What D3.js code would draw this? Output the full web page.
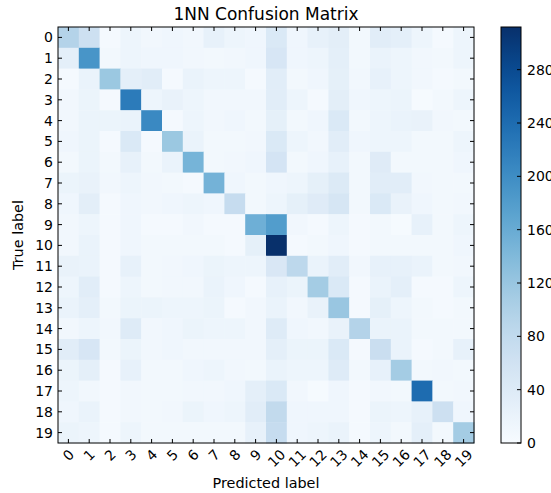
<!DOCTYPE html>
<html lang="en">
<head>
<meta charset="UTF-8">
<title>1NN Confusion Matrix</title>
<style>
  body { margin: 0; background: #fff; }
  text { font-family: "DejaVu Sans", sans-serif; fill: #000; }
</style>
</head>
<body>
<svg id="chart" width="551" height="493"></svg>
<script src="https://d3js.org/d3.v7.min.js"></script>
<script>
// class labels (same for true and predicted)
const labels = d3.range(20).map(String);

// confusion matrix rows: true label, columns: predicted label
const matrix = [
  [ 95, 65,  5, 15, 10, 12, 10, 25, 15, 12, 45, 12, 25, 32,  8, 35, 30, 15,  5, 15],
  [ 30,190,  8, 15, 12, 12, 10,  8, 10, 12, 50, 12, 15, 30,  8, 20, 15, 10,  8, 15],
  [  5, 20,118, 30, 35,  5, 20, 15, 15,  5, 35,  8, 12, 28, 10, 25, 15, 10,  5,  8],
  [ 10, 18,  5,222, 15, 22, 15, 10, 10, 10, 35, 15,  5, 32, 12, 15, 18,  3,  8, 15],
  [ 10, 18, 18, 20,205,  5, 15, 10, 12,  8, 28,  8, 12, 45,  8, 15, 20, 22, 10,  8],
  [ 12, 18,  5, 45,  5,118, 20,  8,  8, 10, 45, 15, 10, 35, 12, 15, 15,  8,  8, 15],
  [  8, 18,  8, 25,  8, 20,148,  8, 10, 12, 55,  8, 12, 25,  8, 38,  8,  8,  8, 12],
  [ 18, 22, 10, 15, 10,  8,  5,150, 12,  8, 12, 15, 28, 42,  8, 35, 35, 10,  8,  8],
  [ 12, 32,  5, 12, 10, 12, 15, 12, 75,  8, 15, 28, 38, 52,  8, 45, 22, 12,  8, 10],
  [ 10, 15,  5, 12,  5,  5, 10,  5,  5,155,180, 10,  5, 15,  5,  8,  3, 25,  8, 15],
  [ 10, 20,  5, 12,  8,  8,  8,  8,  5, 28,312,  5,  8, 12,  5,  8,  8,  8,  8, 12],
  [ 22, 20,  5, 25,  8, 10, 12, 18, 15, 15, 48, 85, 20, 35, 10, 25, 25, 20,  8, 10],
  [ 15, 35,  5, 15,  8, 10, 10, 20, 12,  5, 25, 18,110, 45,  5, 20, 30,  5,  5, 15],
  [ 20, 30,  8, 18, 18, 15, 15, 18,  5, 10, 20, 10, 22,120,  5, 28, 15,  8,  5,  8],
  [ 10, 15, 10, 40, 10, 12, 18, 15, 15, 10, 40, 12, 10, 22, 95, 20, 20,  8,  8,  8],
  [ 35, 50,  8, 18, 10, 12, 10, 10, 10, 10, 30, 18, 18, 45,  5, 70, 20,  5,  8, 25],
  [ 18, 30,  5, 25,  8,  8, 12, 15, 10,  8, 20, 15, 15, 40,  8, 25,110,  8, 10,  8],
  [ 15, 10,  5, 10,  8,  8, 10, 10, 12, 30, 45, 10,  3, 12,  5, 10,  8,240,  8, 10],
  [ 12, 20,  5, 10,  8, 10, 18, 12, 15, 35, 80, 12, 12, 12,  5, 18, 15, 25, 65, 12],
  [ 18, 15,  5, 15,  8,  8,  8,  8,  8, 25, 75, 12, 15, 20,  5, 15,  8, 30,  8,110]
];

// colorbar ticks
const barTicks = [0, 40, 80, 120, 160, 200, 240, 280];

const svg = d3.select("#chart");

// plot area
const plotLeft = 58, plotTop = 27, size = 416;

const x = d3.scaleBand().domain(labels).range([plotLeft, plotLeft + size]);
const y = d3.scaleBand().domain(labels).range([plotTop, plotTop + size]);

const vmax = d3.max(matrix.flat());
const color = d3.scaleSequential(d3.interpolateBlues).domain([0, vmax]);

// cells
const cells = [];
matrix.forEach((row, i) => row.forEach((v, j) => cells.push({ r: labels[i], c: labels[j], v: v })));

svg.append("g")
    .selectAll("rect")
    .data(cells)
    .enter()
    .append("rect")
    .attr("x", d => x(d.c))
    .attr("y", d => y(d.r))
    .attr("width", x.bandwidth() + 0.5)
    .attr("height", y.bandwidth() + 0.5)
    .attr("fill", d => color(d.v));

// frame
svg.append("rect")
    .attr("x", plotLeft).attr("y", plotTop)
    .attr("width", size).attr("height", size)
    .attr("fill", "none").attr("stroke", "#000").attr("stroke-width", 1);

// inward ticks on all four sides
const tickLen = 4;
const tg = svg.append("g").attr("stroke", "#000").attr("stroke-width", 1);
labels.forEach(l => {
    const cx = x(l) + x.bandwidth() / 2;
    const cy = y(l) + y.bandwidth() / 2;
    tg.append("line").attr("x1", cx).attr("x2", cx).attr("y1", plotTop).attr("y2", plotTop + tickLen);
    tg.append("line").attr("x1", cx).attr("x2", cx).attr("y1", plotTop + size).attr("y2", plotTop + size - tickLen);
    tg.append("line").attr("y1", cy).attr("y2", cy).attr("x1", plotLeft).attr("x2", plotLeft + tickLen);
    tg.append("line").attr("y1", cy).attr("y2", cy).attr("x1", plotLeft + size).attr("x2", plotLeft + size - tickLen);
});

// y tick labels
svg.append("g")
    .selectAll("text")
    .data(labels)
    .enter()
    .append("text")
    .attr("x", plotLeft - 5)
    .attr("y", d => y(d) + y.bandwidth() / 2)
    .attr("dy", "0.36em")
    .attr("text-anchor", "end")
    .style("font-size", "14px")
    .text(d => d);

// x tick labels, rotated 45, centred on the tick with the box top just under the axis
const xLab = svg.append("g")
    .selectAll("text")
    .data(labels)
    .enter()
    .append("text")
    .attr("text-anchor", "middle")
    .attr("dy", "0.36em")
    .style("font-size", "14px")
    .text(d => d);
xLab.attr("transform", function(d) {
    const w = this.getComputedTextLength();
    const half = (w + 11) / (2 * Math.SQRT2);
    return `translate(${x(d) + x.bandwidth() / 2},${plotTop + size + 5 + half}) rotate(-45)`;
});

// title and axis labels
svg.append("text")
    .attr("x", plotLeft + size / 2).attr("y", 20)
    .attr("text-anchor", "middle")
    .style("font-size", "17px")
    .text("1NN Confusion Matrix");

svg.append("text")
    .attr("x", plotLeft + size / 2).attr("y", 488)
    .attr("text-anchor", "middle")
    .style("font-size", "14.4px")
    .text("Predicted label");

svg.append("text")
    .attr("transform", `translate(23,${plotTop + size / 2}) rotate(-90)`)
    .attr("text-anchor", "middle")
    .style("font-size", "14.4px")
    .text("True label");

// colorbar
const cbX = 501, cbW = 20;
const cbScale = d3.scaleLinear().domain([0, vmax]).range([plotTop + size, plotTop]);

const defs = svg.append("defs");
const grad = defs.append("linearGradient")
    .attr("id", "cbgrad")
    .attr("x1", 0).attr("x2", 0).attr("y1", 1).attr("y2", 0);
d3.range(0, 1.0001, 0.05).forEach(t => {
    grad.append("stop").attr("offset", t).attr("stop-color", color(t * vmax));
});

svg.append("rect")
    .attr("x", cbX).attr("y", plotTop)
    .attr("width", cbW).attr("height", size)
    .attr("fill", "url(#cbgrad)")
    .attr("stroke", "#000").attr("stroke-width", 1);

const cbAxis = d3.axisRight(cbScale)
    .tickValues(barTicks)
    .tickSize(0)
    .tickPadding(6);

const cbG = svg.append("g")
    .attr("transform", `translate(${cbX + cbW},0)`)
    .call(cbAxis);
cbG.select(".domain").remove();
cbG.selectAll("text")
    .style("font-size", "14px")
    .style("font-family", "DejaVu Sans, sans-serif")
    .attr("fill", "#000");

svg.append("g")
    .selectAll("line")
    .data(barTicks)
    .enter()
    .append("line")
    .attr("x1", cbX + cbW).attr("x2", cbX + cbW - 4)
    .attr("y1", d => cbScale(d)).attr("y2", d => cbScale(d))
    .attr("stroke", "#000");
</script>
</body>
</html>
